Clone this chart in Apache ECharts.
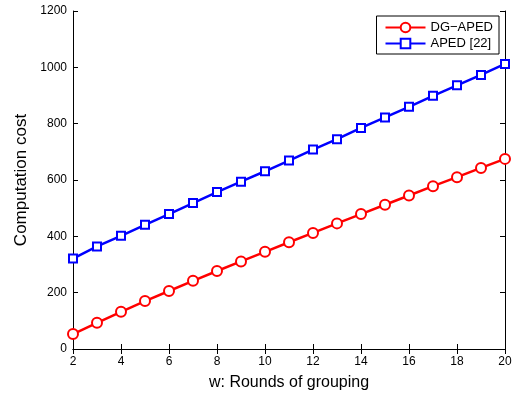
<!DOCTYPE html>
<html><head><meta charset="utf-8">
<script src="https://cdn.jsdelivr.net/npm/echarts@6/dist/echarts.min.js"></script>
<style>html,body{margin:0;padding:0;background:#fff}#c{width:520px;height:396px}</style>
</head><body><div id="c"></div>
<script>
const rounds = [2,3,4,5,6,7,8,9,10,11,12,13,14,15,16,17,18,19,20];
const dgAped = [53,93,132,170,206,242,277,311,345,379,412,446,479,512,545,578,610,643,675];
const aped = [321,364,402,441,479,518,557,594,631,669,708,745,785,822,860,899,936,973,1012];
const seriesNames = ['DG\u2212APED','APED [22]'];
const xName = 'w: Rounds of grouping';
const yName = 'Computation cost';

const font = 'Liberation Sans, Arial, Helvetica, sans-serif';
const chart = echarts.init(document.getElementById('c'));
const axisCommon = {
  axisLine:{show:true,lineStyle:{color:'#000',width:1}},
  axisTick:{show:true,inside:true,length:5,lineStyle:{color:'#000'}},
  splitLine:{show:false}
};
chart.setOption({
  animation:false,
  backgroundColor:'#fff',
  grid:{left:73,right:15,top:11,bottom:45},
  legend:{
    right:21, top:16, orient:'vertical',
    backgroundColor:'#fff', borderColor:'#000', borderWidth:1,
    padding:[5,6,4,8], itemGap:3, itemWidth:40, itemHeight:12,
    textStyle:{fontFamily:font,fontSize:13,color:'#000'},
    data:seriesNames
  },
  xAxis:[
    Object.assign({type:'value',min:2,max:20,interval:2,
      name:xName,nameLocation:'middle',nameGap:26,
      nameTextStyle:{fontFamily:font,fontSize:16,color:'#000'},
      axisLabel:{fontFamily:font,fontSize:12,color:'#000',margin:7}},axisCommon),
    Object.assign({type:'value',min:2,max:20,interval:2,position:'top',
      axisLabel:{show:false}},axisCommon)
  ],
  yAxis:[
    Object.assign({type:'value',min:0,max:1200,interval:200,
      name:yName,nameLocation:'middle',nameGap:40,
      nameTextStyle:{fontFamily:font,fontSize:17,color:'#000'},
      axisLabel:{fontFamily:font,fontSize:12,color:'#000',margin:6,formatter:v=>String(v)}},axisCommon),
    Object.assign({type:'value',min:0,max:1200,interval:200,position:'right',
      axisLabel:{show:false}},axisCommon)
  ],
  series:[
    {name:seriesNames[0],type:'line',data:rounds.map((x,i)=>[x,dgAped[i]]),
     symbol:'emptyCircle',symbolSize:10,
     lineStyle:{color:'#ff0000',width:2.5},
     itemStyle:{color:'#ff0000',borderColor:'#ff0000',borderWidth:2}},
    {name:seriesNames[1],type:'line',data:rounds.map((x,i)=>[x,aped[i]]),
     symbol:'emptyRect',symbolSize:8,
     lineStyle:{color:'#0000ff',width:2.5},
     itemStyle:{color:'#0000ff',borderColor:'#0000ff',borderWidth:2}}
  ]
});
</script></body></html>
